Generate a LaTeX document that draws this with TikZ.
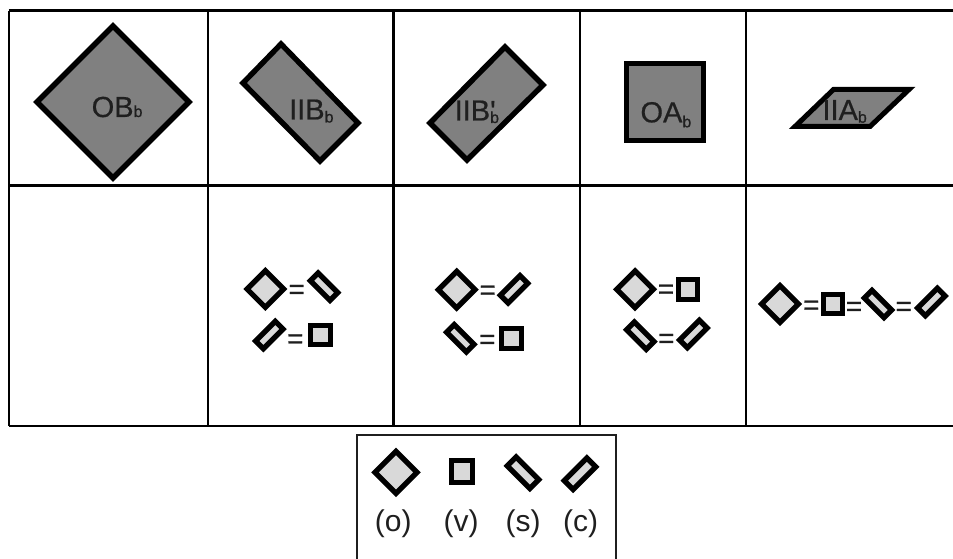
\documentclass[tikz,border=0pt]{standalone}
\usepackage{fontspec}
\setmainfont{Liberation Sans}
\newfontfamily\labfont[FakeBold=0.6]{Liberation Sans}
\newfontfamily\eqfont[FakeBold=0.7]{Liberation Sans}
\definecolor{bigfill}{HTML}{808080}
\definecolor{smallfill}{HTML}{D9D9D9}
\definecolor{ink}{HTML}{1F1F1F}
\tikzset{
  grid line/.style={line width=2.4pt,black},
  bigtilt/.style={draw=black,line width=5.4pt,miter limit=10,fill=bigfill,line join=miter},
  bigflat/.style={draw=black,line width=5pt,miter limit=10,fill=bigfill,line join=miter},
  smalltilt/.style={draw=black,line width=5.3pt,miter limit=10,fill=smallfill,line join=miter},
  smallflat/.style={draw=black,line width=5pt,miter limit=10,fill=smallfill,line join=miter},
  legendbox/.style={draw=ink,line width=2.2pt},
  eqsign/.style={inner sep=0pt,anchor=base,yshift=-9.7pt,text=ink,font=\eqfont\fontsize{28}{28}\selectfont},
  biglabel/.style={inner sep=0pt,anchor=base west,text=ink,font=\labfont\fontsize{29}{29}\selectfont},
  legendlabel/.style={inner sep=0pt,anchor=base,text=ink,font=\fontsize{30}{30}\selectfont},
}
\newcommand{\subb}[1]{\raisebox{#1}{\fontsize{16}{16}\selectfont b}}
% small glyphs: centre x, centre y, scale
\newcommand{\Gdia}[3]{\draw[smalltilt,shift={(#1,#2)}] (-18.3*#3,0) -- (0,-18.3*#3) -- (18.3*#3,0) -- (0,18.3*#3) -- cycle;}
\newcommand{\Gsqu}[3]{\draw[smallflat,shift={(#1,#2)}] (-9.7*#3,-9.7*#3) rectangle (9.7*#3,9.7*#3);}
\newcommand{\Gsid}[3]{\draw[smalltilt,shift={(#1,#2)}] (-6*#3,-13.7*#3) -- (13.7*#3,6*#3) -- (6*#3,13.7*#3) -- (-13.7*#3,-6*#3) -- cycle;}
\newcommand{\Gcro}[3]{\draw[smalltilt,shift={(#1,#2)}] (6*#3,-13.7*#3) -- (-13.7*#3,6*#3) -- (-6*#3,13.7*#3) -- (13.7*#3,-6*#3) -- cycle;}
\begin{document}
\begin{tikzpicture}[x=1pt,y=-1pt]
\useasboundingbox (0,0) rectangle (953,559);
% table
\coordinate (tl) at (8.7,10.7);
\coordinate (tr) at (953,10.7);
\coordinate (ml) at (8.7,185.5);
\coordinate (mr) at (953,185.5);
\coordinate (bl) at (8.7,425.7);
\coordinate (br) at (953,425.7);
\draw[grid line] (tl) -- (tr);
\draw[grid line] (ml) -- (mr);
\draw[grid line] (bl) -- (br);
\draw[grid line] (tl) -- (bl);
\draw[grid line] (207.8,12.5) -- (207.8,425.7);
\draw[grid line] (393.3,12.5) -- (393.3,425.7);
\draw[grid line] (580,12.5) -- (580,425.7);
\draw[grid line] (746,12.5) -- (746,425.7);
% big shapes
\draw[bigtilt] (37,102) -- (113,26) -- (189,102) -- (113,178) -- cycle;
\draw[bigtilt] (243,83) -- (281,44) -- (358,123) -- (320,161) -- cycle;
\draw[bigtilt] (430,123) -- (505,47) -- (543,85) -- (467,160) -- cycle;
\draw[bigflat] (626.5,63.5) rectangle (703.5,140.5);
\draw[bigflat] (795,126.5) -- (833.5,89.5) -- (909,89.5) -- (870,126.5) -- cycle;
% big labels
\node[biglabel] (lob) at (91.5,117) {OB\subb{0pt}};
\node[biglabel] (lii) at (289,119.5) {IIB\subb{-3pt}};
\node[biglabel] (liip) at (454.5,120.5) {IIB\rlap{\raisebox{-0.5pt}{'}}\subb{-2.5pt}};
\node[biglabel] (loa) at (640.3,122.3) {OA\subb{-5pt}};
\node[biglabel] (lia) at (822.3,120) {IIA\subb{-2.7pt}};
% cell 2
\Gdia{265.3}{289}{1}
\node[eqsign] (e1) at (296.7,289) {=};
\Gsid{324}{286.7}{1}
\Gcro{269.3}{335}{1}
\node[eqsign] (e2) at (295.3,338.3) {=};
\Gsqu{320.3}{334.7}{1}
% cell 3
\Gdia{456.7}{289.7}{1}
\node[eqsign] (e3) at (487.7,289.7) {=};
\Gcro{514}{289.3}{1}
\Gsid{460.3}{338.3}{1}
\node[eqsign] (e4) at (487.3,339) {=};
\Gsqu{511.3}{338.3}{1}
% cell 4
\Gdia{635}{289.3}{1}
\node[eqsign] (e5) at (666,288.7) {=};
\Gsqu{688}{289.3}{1}
\Gsid{640.3}{335.7}{1}
\node[eqsign] (e6) at (666.3,338) {=};
\Gcro{693.3}{334}{1}
% cell 5
\Gdia{780}{304}{1}
\node[eqsign] (e7) at (811.3,304.7) {=};
\Gsqu{833}{304}{1}
\node[eqsign] (e8) at (854,306) {=};
\Gsid{878}{304}{1}
\node[eqsign] (e9) at (903.7,306) {=};
\Gcro{931.3}{302}{1}
% legend
\draw[legendbox] (357.3,560) -- (357.3,434.7) -- (615.7,434.7) -- (615.7,560);
\Gdia{396}{472.3}{1.15}
\Gsqu{462}{471.3}{1.13}
\Gsid{523}{472.7}{1.15}
\Gcro{580}{473.7}{1.15}
\node[legendlabel] (lo) at (393.3,531) {(o)};
\node[legendlabel] (lv) at (461,531) {(v)};
\node[legendlabel] (ls) at (523,531) {(s)};
\node[legendlabel] (lc) at (580.7,531) {(c)};
\end{tikzpicture}
\end{document}
